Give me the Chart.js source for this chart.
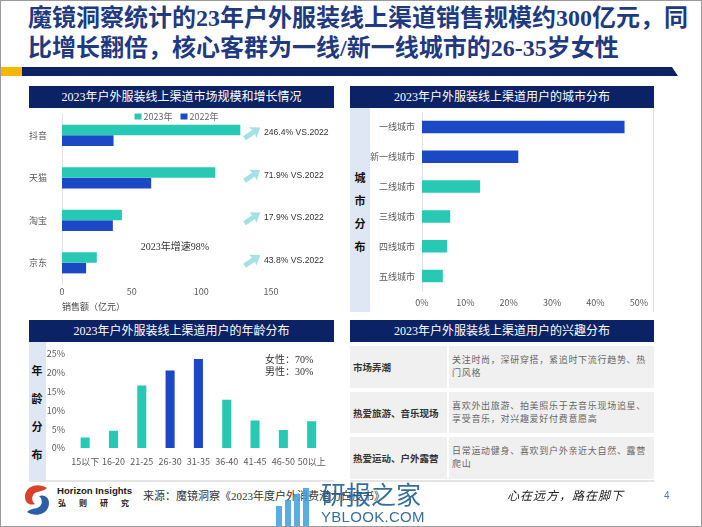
<!DOCTYPE html>
<html>
<head>
<meta charset="utf-8">
<script src="https://cdn.jsdelivr.net/npm/chart.js@4.4.1/dist/chart.umd.min.js"></script>
<style>
  body { margin: 0; background: #fff; }
  #slide { position: relative; width: 702px; height: 527px; overflow: hidden; background: #fff;
           font-family: "Noto Sans CJK SC", sans-serif; }
  #frame { position: absolute; left: 0; top: 0; width: 700px; height: 525px; border: 1px solid #9a9a9a; pointer-events: none; }
  .abs { position: absolute; }
  .title { left: 28px; top: 3px; width: 668px; font: bold 24px/30px "Liberation Serif", "Noto Sans CJK SC", serif; color: #1f3a80; }
  .head { height: 22px; background: #0b2265; color: #fff; text-align: center;
          font: 12px/22px "Liberation Serif", "Noto Sans CJK SC", serif; }
  .strip { background: #dfe7f5; }
  .vchar { position: absolute; width: 20px; text-align: center; font-weight: bold; font-size: 11px; color: #111; }
  .cell { background: #f0f0f0; display: flex; align-items: center; box-sizing: border-box; color: #333;
          font-family: "Liberation Serif", "Noto Sans CJK SC", serif; }
  .c1 { font-size: 9.5px; font-weight: bold; padding-left: 3px; }
  .c2 { font-size: 9px; line-height: 13px; letter-spacing: 0.7px; color: #666; padding-left: 3px; }
  .note { font: 10px/12px "Liberation Serif", "Noto Sans CJK SC", serif; color: #333; }
</style>
</head>
<body>
<div id="slide">
  <div class="abs title">魔镜洞察统计的23年户外服装线上渠道销售规模约300亿元，同比增长翻倍，核心客群为一线/新一线城市的26-35岁女性</div>
  <div class="abs" style="left:0;top:67px;width:22px;height:9px;background:#f5b800"></div>
  <div class="abs" style="left:22px;top:67px;width:656px;height:9px;background:#0b2265;clip-path:polygon(0 0,650px 0,656px 9px,0 9px)"></div>

  <!-- top left panel -->
  <div class="abs head" style="left:29px;top:86px;width:305px">2023年户外服装线上渠道市场规模和增长情况</div>
  <canvas id="salesChart" class="abs" style="left:27px;top:106px" width="307" height="206"></canvas>

  <!-- top right panel -->
  <div class="abs head" style="left:350px;top:86px;width:304px">2023年户外服装线上渠道用户的城市分布</div>
  <div class="abs strip" style="left:350px;top:108px;width:20px;height:204px"></div>
  <div class="vchar" style="left:350px;top:169px">城</div>
  <div class="vchar" style="left:350px;top:192px">市</div>
  <div class="vchar" style="left:350px;top:215px">分</div>
  <div class="vchar" style="left:350px;top:238px">布</div>
  <div class="abs" style="left:653px;top:108px;width:1px;height:204px;background:#e2e2e2"></div>
  <canvas id="cityChart" class="abs" style="left:370px;top:108px" width="284" height="204"></canvas>

  <!-- bottom left panel -->
  <div class="abs head" style="left:29px;top:320px;width:305px">2023年户外服装线上渠道用户的年龄分布</div>
  <div class="abs strip" style="left:29px;top:342px;width:17px;height:138px"></div>
  <div class="vchar" style="left:27px;top:362px">年</div>
  <div class="vchar" style="left:27px;top:390px">龄</div>
  <div class="vchar" style="left:27px;top:418px">分</div>
  <div class="vchar" style="left:27px;top:446px">布</div>
  <div class="abs" style="left:29px;top:480px;width:305px;height:2px;background:#e4e4e4"></div>
  <canvas id="ageChart" class="abs" style="left:45px;top:342px" width="289" height="138"></canvas>
  <div class="abs note" style="left:265px;top:354px">女性：70%<br>男性：30%</div>

  <!-- bottom right panel -->
  <div class="abs head" style="left:350px;top:320px;width:304px">2023年户外服装线上渠道用户的兴趣分布</div>
  <div class="abs cell c1" style="left:350px;top:346px;width:97px;height:42px">市场弄潮</div>
  <div class="abs cell c2" style="left:449px;top:346px;width:205px;height:42px">关注时尚，深研穿搭，紧追时下流行趋势、热<br>门风格</div>
  <div class="abs cell c1" style="left:350px;top:392px;width:97px;height:41px">热爱旅游、音乐现场</div>
  <div class="abs cell c2" style="left:449px;top:392px;width:205px;height:41px">喜欢外出旅游、拍美照乐于去音乐现场追星、<br>享受音乐，对兴趣爱好付费意愿高</div>
  <div class="abs cell c1" style="left:350px;top:437px;width:97px;height:42px">热爱运动、户外露营</div>
  <div class="abs cell c2" style="left:449px;top:437px;width:205px;height:42px">日常运动健身、喜欢到户外亲近大自然、露营<br>爬山</div>
  <div class="abs" style="left:350px;top:480px;width:304px;height:2px;background:#e4e4e4"></div>

  <!-- footer -->
  <svg class="abs" style="left:22px;top:482px" width="30" height="36" viewBox="0 0 30 36">
    <path d="M25 6 C16 0 3 4 3 15 C3 21 8 24 13 22 C9 19 9 12 15 10 C19 9 22 9 25 6 Z" fill="#d8412c"/>
    <path d="M5 30 C14 36 27 32 27 21 C27 15 22 12 17 14 C21 17 21 24 15 26 C11 27 8 27 5 30 Z" fill="#2a5fa8"/>
  </svg>
  <div class="abs" style="left:57px;top:485px;font:bold 9.6px/12px 'Liberation Sans',Arial,sans-serif;color:#1a1a1a">Horizon Insights</div>
  <div class="abs" style="left:58px;top:498px;font-weight:bold;font-size:8px;line-height:10px;letter-spacing:13px;color:#1a1a1a">弘则研究</div>
  <div class="abs" style="left:143px;top:489px;font:11px/14px 'Liberation Serif','Noto Sans CJK SC',serif;color:#333">来源：魔镜洞察《2023年度户外消费潜力白皮书》</div>

  <div class="abs" style="left:276px;top:506px;width:6px;height:21px;background:#3c9fdc;opacity:.85"></div>
  <div class="abs" style="left:285px;top:500px;width:6px;height:27px;background:#3c9fdc;opacity:.85"></div>
  <div class="abs" style="left:294px;top:494px;width:6px;height:33px;background:#3c9fdc;opacity:.85"></div>
  <div class="abs" style="left:303px;top:488px;width:6px;height:39px;background:#3c9fdc;opacity:.85"></div>
  <div class="abs" style="left:321px;top:478px;font-size:25px;line-height:30px;color:#1f5f95;opacity:.9">研报之家</div>
  <div class="abs" style="left:321px;top:508px;font:15px/17px 'Liberation Sans',Arial,sans-serif;color:#1f5f95;opacity:.9;letter-spacing:0.3px">YBLOOK.COM</div>

  <div class="abs" style="left:507px;top:489px;font:italic 12px/14px 'Liberation Serif','Noto Sans CJK SC',serif;color:#222;letter-spacing:1px">心在远方，路在脚下</div>
  <div class="abs" style="left:664px;top:489px;font:10px/14px 'Liberation Sans',Arial,sans-serif;color:#5a7aa6">4</div>
  <div id="frame"></div>
</div>

<script>
// chart data
const channels = ['抖音', '天猫', '淘宝', '京东'];
const sales2023 = [128, 110, 43, 25];
const sales2022 = [37, 64, 36.5, 17.3];
const growthLabels = ['246.4% VS.2022', '71.9% VS.2022', '17.9% VS.2022', '43.8% VS.2022'];
const salesTicks = [0, 50, 100, 150];

const cityTiers = ['一线城市', '新一线城市', '二线城市', '三线城市', '四线城市', '五线城市'];
const cityShare = [46.7, 22.2, 13.4, 6.5, 5.8, 4.8];
const cityHighlight = [true, true, false, false, false, false];

const ageGroups = ['15以下', '16-20', '21-25', '26-30', '31-35', '36-40', '41-45', '46-50', '50以上'];
const ageShare = [2.8, 4.6, 16.6, 20.6, 23.7, 12.8, 7.3, 4.8, 7.1];
const ageHighlight = [false, false, false, true, true, false, false, false, false];

const TEAL = '#27c9b5';
const BLUE = '#1b48c4';
const TICK = '#5a5a5a';

Chart.defaults.font.family = '"Noto Sans CJK SC", "Liberation Sans", sans-serif';
Chart.defaults.animation = false;
Chart.defaults.responsive = false;

// fixed width category axis, without the extra top/bottom room for its labels
function categoryAxisWidth(w) {
    return (axis) => {
        axis.width = w;
        axis.paddingTop = 0;
        axis.paddingBottom = 0;
    };
}

// small legend drawn tight above the bars
const salesLegend = {
    id: 'salesLegend',
    afterDraw(chart) {
        const { ctx } = chart;
        ctx.save();
        ctx.font = '9px "Noto Sans CJK SC", sans-serif';
        ctx.textBaseline = 'middle';
        ctx.textAlign = 'left';
        const items = chart.data.datasets.map(ds => ({
            text: ds.label,
            color: ds.backgroundColor,
            w: 9 + ctx.measureText(ds.label).width
        }));
        const gap = 8;
        const total = items.reduce((s, it) => s + it.w, 0) + gap;
        let x = chart.width / 2 - 4 - total / 2;
        const y = 10.5;
        items.forEach(it => {
            ctx.fillStyle = it.color;
            ctx.fillRect(x, y - 3, 7, 6);
            ctx.fillStyle = '#666';
            ctx.fillText(it.text, x + 9, y);
            x += it.w + gap;
        });
        ctx.restore();
    }
};

function drawArrow(ctx, x, y) {
    ctx.save();
    ctx.translate(x, y);
    ctx.rotate(-0.6);
    ctx.fillStyle = '#a3e2e4';
    ctx.beginPath();
    ctx.moveTo(0, -2.5);
    ctx.lineTo(11, -2.5);
    ctx.lineTo(10, -6.5);
    ctx.lineTo(19, 0);
    ctx.lineTo(10, 6.5);
    ctx.lineTo(11, 2.5);
    ctx.lineTo(0, 2.5);
    ctx.closePath();
    ctx.fill();
    ctx.restore();
}

// growth labels next to each channel
const growthNotes = {
    id: 'growthNotes',
    afterDraw(chart) {
        const { ctx, scales: { x, y } } = chart;
        ctx.save();
        channels.forEach((c, i) => {
            const cy = y.getPixelForValue(i);
            drawArrow(ctx, x.getPixelForValue(131), cy + 3);
            ctx.fillStyle = '#333';
            ctx.font = '8.6px "Liberation Sans", Arial, sans-serif';
            ctx.textBaseline = 'middle';
            ctx.textAlign = 'left';
            ctx.fillText(growthLabels[i], x.getPixelForValue(145), cy - 2.5);
        });
        ctx.font = '10px "Liberation Serif", "Noto Sans CJK SC", serif';
        ctx.textAlign = 'center';
        ctx.fillStyle = '#333';
        const my = (y.getPixelForValue(2) + y.getPixelForValue(3)) / 2 + 6;
        ctx.fillText('2023年增速98%', x.getPixelForValue(81), my);
        ctx.restore();
    }
};

new Chart(document.getElementById('salesChart'), {
    type: 'bar',
    data: {
        labels: channels,
        datasets: [
            { label: '2023年', data: sales2023, backgroundColor: TEAL, categoryPercentage: 0.5, barPercentage: 1 },
            { label: '2022年', data: sales2022, backgroundColor: BLUE, categoryPercentage: 0.5, barPercentage: 1 }
        ]
    },
    options: {
        indexAxis: 'y',
        layout: { padding: { left: 0, right: 63, top: 8, bottom: 0 } },
        plugins: {
            legend: { display: false },
            tooltip: { enabled: false }
        },
        scales: {
            x: {
                min: 0,
                max: 150,
                afterBuildTicks: (axis) => { axis.ticks = salesTicks.map(v => ({ value: v })); },
                ticks: { font: { size: 9 }, color: TICK, padding: 2 },
                grid: { display: false, drawTicks: false },
                border: { display: false },
                title: { display: true, text: '销售额（亿元）', align: 'start', font: { size: 9 }, color: '#444', padding: 0 },
                afterFit: (axis) => { axis.height = 28; }
            },
            y: {
                ticks: { font: { size: 9 }, color: TICK, padding: 15 },
                grid: { display: false, drawTicks: false },
                border: { color: '#e3e3e3' },
                afterFit: categoryAxisWidth(35)
            }
        }
    },
    plugins: [salesLegend, growthNotes]
});

new Chart(document.getElementById('cityChart'), {
    type: 'bar',
    data: {
        labels: cityTiers,
        datasets: [{
            data: cityShare,
            backgroundColor: cityHighlight.map(h => h ? BLUE : TEAL),
            categoryPercentage: 1,
            barPercentage: 0.42
        }]
    },
    options: {
        indexAxis: 'y',
        layout: { padding: { left: 0, right: 11, top: 4, bottom: 0 } },
        plugins: { legend: { display: false }, tooltip: { enabled: false } },
        scales: {
            x: {
                min: 0,
                max: 50,
                ticks: { stepSize: 10, callback: v => v + '%', font: { size: 9 }, color: TICK, padding: 6 },
                grid: { display: false, drawTicks: false },
                border: { display: false },
                afterFit: (axis) => { axis.height = 21; }
            },
            y: {
                ticks: { font: { size: 9 }, color: TICK, padding: 7 },
                grid: { display: false, drawTicks: false },
                border: { color: '#e3e3e3' },
                afterFit: categoryAxisWidth(52)
            }
        }
    }
});

new Chart(document.getElementById('ageChart'), {
    type: 'bar',
    data: {
        labels: ageGroups,
        datasets: [{
            data: ageShare,
            backgroundColor: ageHighlight.map(h => h ? BLUE : TEAL),
            categoryPercentage: 1,
            barPercentage: 0.32
        }]
    },
    options: {
        layout: { padding: { left: 0, right: 6, top: 12, bottom: 0 } },
        plugins: { legend: { display: false }, tooltip: { enabled: false } },
        scales: {
            x: {
                ticks: { font: { size: 9 }, color: TICK, padding: 8, maxRotation: 0, autoSkip: false },
                grid: { display: false, drawTicks: false },
                border: { display: false },
                afterFit: (axis) => { axis.height = 32; }
            },
            y: {
                min: 0,
                max: 25,
                ticks: { stepSize: 5, callback: v => v + '%', font: { size: 9 }, color: TICK, padding: 6 },
                grid: { display: false, drawTicks: false },
                border: { display: false },
                afterFit: (axis) => { axis.width = 26; }
            }
        }
    }
});
</script>
</body>
</html>
